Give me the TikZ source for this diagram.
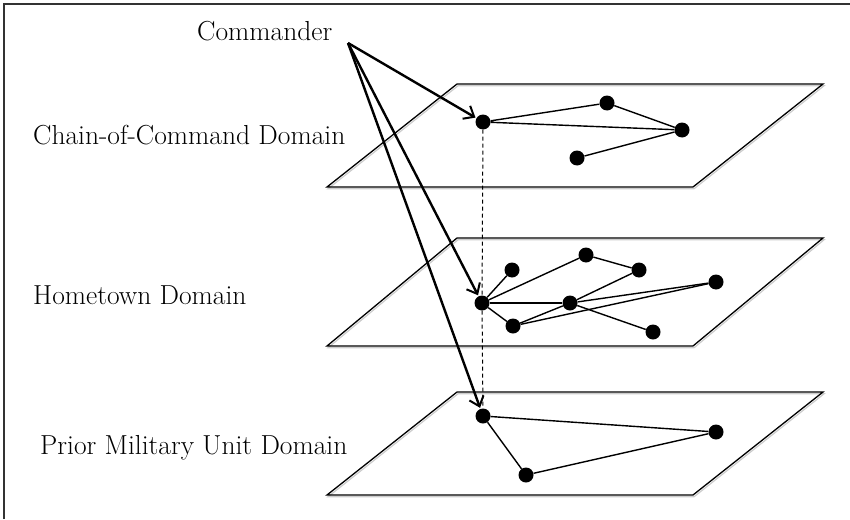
\documentclass[tikz,border=0pt]{standalone}
\usetikzlibrary{arrows.meta}

\tikzset{
  dot/.style={circle,fill=black,inner sep=0pt,minimum size=15pt},
  link/.style={line width=1.4pt},
  plane/.style={line width=1.3pt,line join=miter},
  planeshade/.style={line width=1.2pt,draw=black!20},
  cmdarrow/.style={line width=2.4pt,-{Straight Barb[length=9pt,width=15pt,line width=2pt]},shorten >=1pt},
  vlink/.style={line width=1pt,dash pattern=on 4pt off 3pt},
  lbl/.style={inner sep=0pt,anchor=base west,font=\fontsize{27.5}{32}\selectfont},
}

\begin{document}
\begin{tikzpicture}[x=1pt,y=-1pt]
  \useasboundingbox (0,0) rectangle (850,519);

  % frame
  \draw[line width=1.6pt,black!80] (4,519) -- (4,4) -- (850,4);

  % the three domain planes
  \foreach \t/\b in {84/187, 238/346, 392/495}{
    \draw[planeshade] (458,\t+1.8) -- (824,\t+1.8) -- (694,\b+1.8) -- (328,\b+1.8) -- cycle;
    \draw[plane] (457,\t) -- (823,\t) -- (693,\b) -- (327,\b) -- cycle;
  }

  % labels
  \node[lbl] (cmd) at (197,41) {Commander};
  \node[lbl] (lab1) at (33,144) {Chain-of-Command Domain};
  \node[lbl] (lab2) at (33,304) {Hometown Domain};
  \node[lbl] (lab3) at (40,454) {Prior Military Unit Domain};
  \coordinate (src) at (348,43);

  % chain-of-command network
  \node[dot] (a1) at (483,122) {};
  \node[dot] (b1) at (607,103) {};
  \node[dot] (c1) at (682,130) {};
  \node[dot] (d1) at (577,158) {};

  % hometown network
  \node[dot] (a2) at (482,303) {};
  \node[dot] (b2) at (512,270) {};
  \node[dot] (c2) at (586,255) {};
  \node[dot] (d2) at (639,270) {};
  \node[dot] (e2) at (716,282) {};
  \node[dot] (f2) at (570,303) {};
  \node[dot] (g2) at (513,326) {};
  \node[dot] (h2) at (653,332) {};

  % prior military unit network
  \node[dot] (a3) at (483,416) {};
  \node[dot] (b3) at (716,432) {};
  \node[dot] (c3) at (526,475) {};

  % vertical identity link of the commander across domains
  \draw[vlink] (a1) -- (a2);
  \draw[vlink] (a2) -- (a3);

  \draw[link] (a1) -- (b1) -- (c1) -- (a1);
  \draw[link] (c1) -- (d1);

  \draw[link] (a2) -- (b2);
  \draw[link] (a2) -- (c2) -- (d2) -- (f2);
  \draw[link] (a2) -- (f2);
  \draw[link] (a2) -- (g2);
  \draw[link] (g2) -- (f2) -- (e2);
  \draw[link] (g2) -- (e2);
  \draw[link] (f2) -- (h2);

  \draw[link] (a3) -- (b3) -- (c3) -- (a3);

  % commander arrows
  \draw[cmdarrow] (src) -- (a1);
  \draw[cmdarrow] (src) -- (a2);
  \draw[cmdarrow] (src) -- (a3);
\end{tikzpicture}
\end{document}
